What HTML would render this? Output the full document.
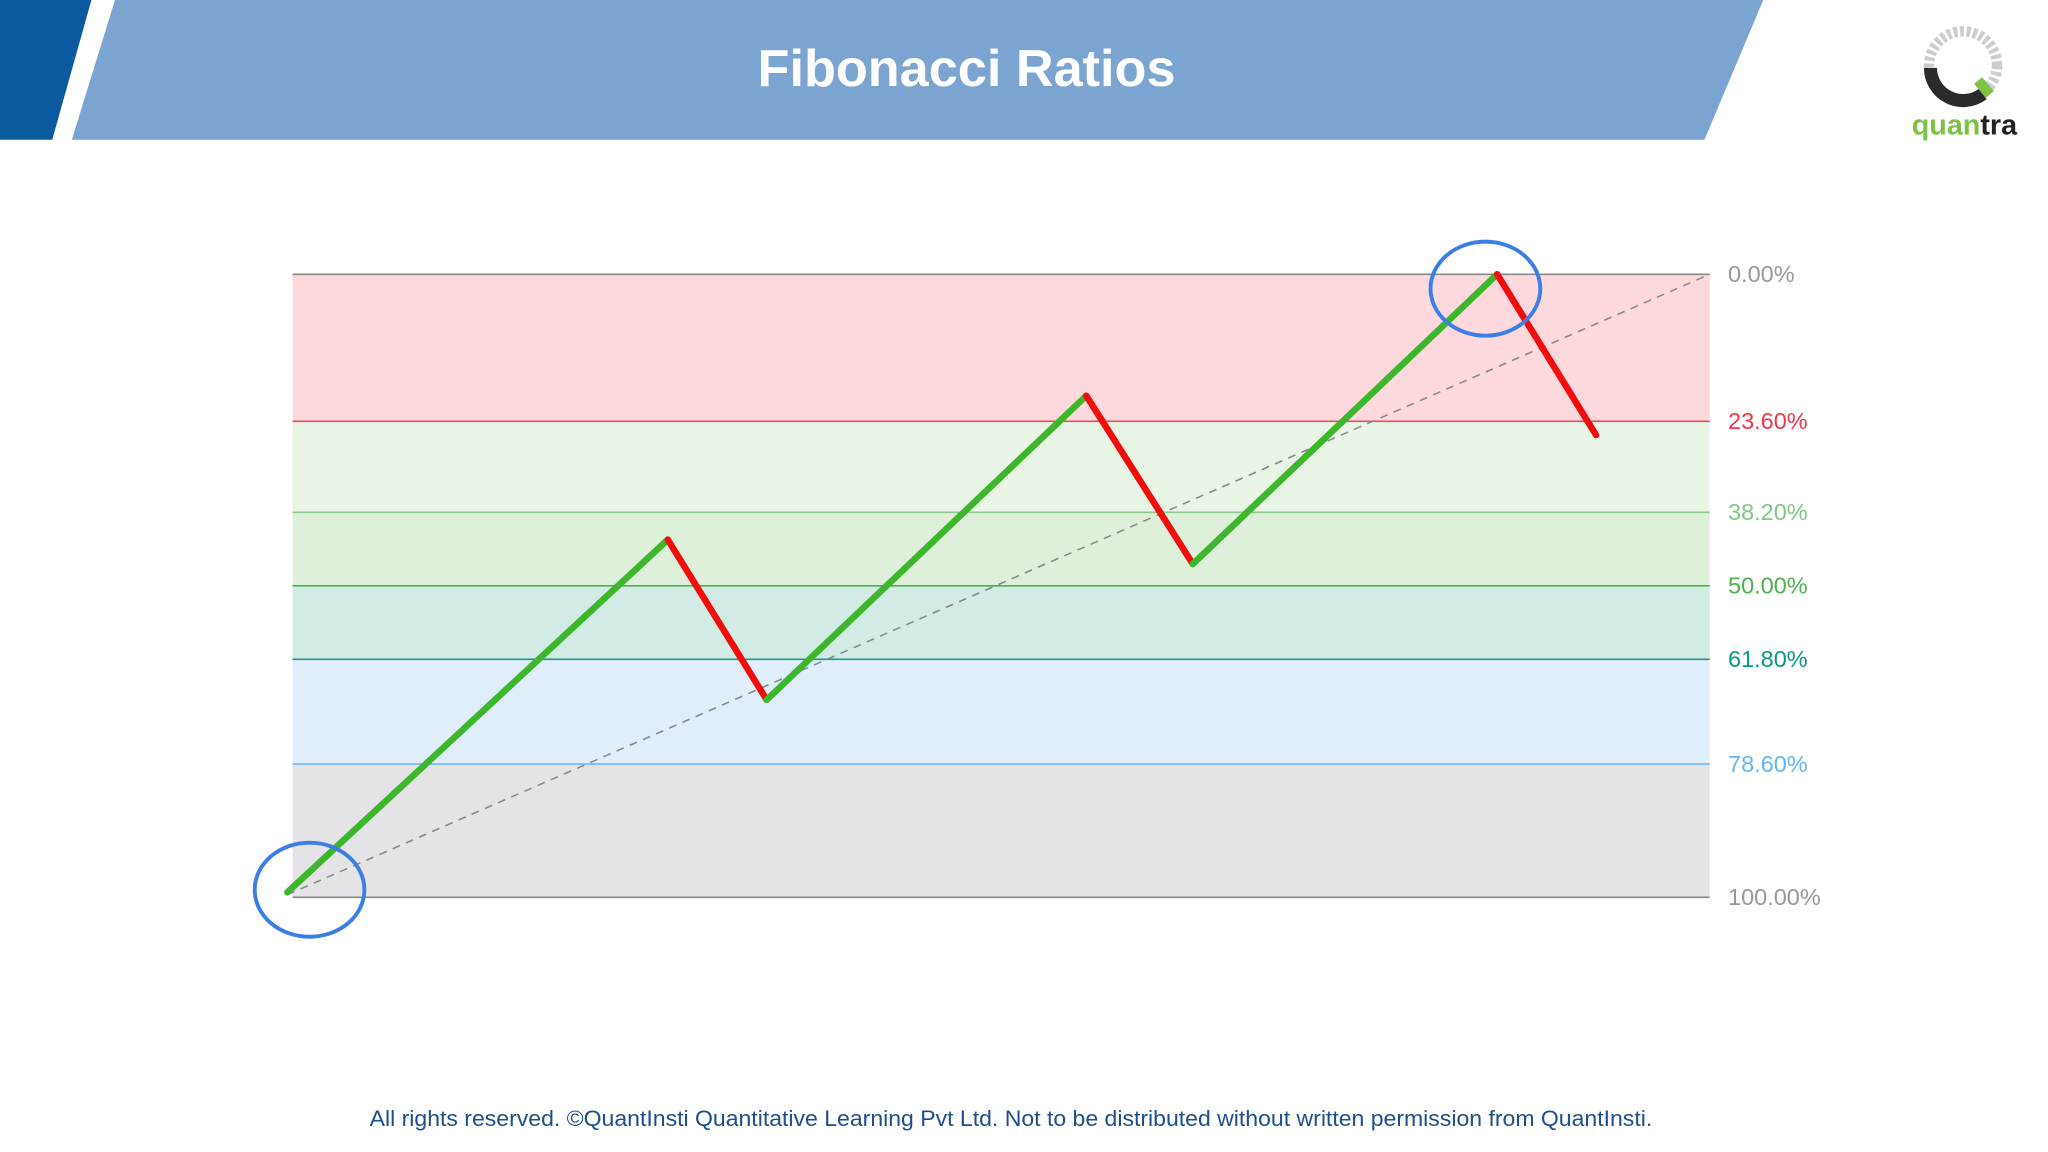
<!DOCTYPE html>
<html><head><meta charset="utf-8"><style>
html,body{margin:0;padding:0;background:#fff;}
svg{display:block;}
text{font-family:"Liberation Sans",sans-serif;}
</style></head><body>
<svg width="2048" height="1152" viewBox="0 0 1568 882" xmlns="http://www.w3.org/2000/svg">
<polygon points="0,0 70,0 40,107 0,107" fill="#0b5aa0"/>
<polygon points="88,0 1350,0 1305,107 55,107" fill="#7ba5d0"/>
<text x="740" y="66" text-anchor="middle" font-size="40" font-weight="bold" fill="#fff">Fibonacci Ratios</text>
<g>
<circle cx="1503" cy="50" r="26" fill="none" stroke="#ccc" stroke-width="8" stroke-dasharray="3 2"/>
<path d="M1478,52 A25,25 0 0 0 1518,72" fill="none" stroke="#2a2a2a" stroke-width="10"/>
<rect x="1515" y="60" width="8" height="14" fill="#7dc242" transform="rotate(-40 1519 67)"/>
<text x="1504" y="103" text-anchor="middle" font-size="22" font-weight="bold" fill="#7dc242">quan<tspan fill="#222">tra</tspan></text>
</g>
<g id="chart"></g>
<text x="283" y="862" textLength="982" lengthAdjust="spacingAndGlyphs" font-size="17" fill="#1f4e8c">All rights reserved. ©QuantInsti Quantitative Learning Pvt Ltd. Not to be distributed without written permission from QuantInsti.</text>
</svg>
<script>
const levels=[0,23.6,38.2,50,61.8,78.6,100];
const levelLabels=["0.00%","23.60%","38.20%","50.00%","61.80%","78.60%","100.00%"];
const times=[0,100,126,210,238,318,344];
const prices=[0.008,0.574,0.317,0.805,0.535,1.0,0.742];
const NS="http://www.w3.org/2000/svg";
const chartG=document.getElementById('chart');
const pLeft=224,pRight=1309,pTop=210,pBot=687;
const yLevel=p=>pTop+p/100*(pBot-pTop);
const yPrice=v=>pTop+(1-v)*(pBot-pTop);
const xT=t=>220+t*(1222-220)/344;
const bandFill=["#fdd8dc","#e8f5e4","#deefda","#d3ebe5","#e0eefc","#e4e4e7"];
const lineCol=["#888","#e05060","#8cc88c","#4caf50","#1a9a80","#64b5f6","#888"];
const labCol=["#999","#f23645","#81c784","#4caf50","#089981","#64b5f6","#999"];
function mk(tag,at){const e=document.createElementNS(NS,tag);for(const k in at)e.setAttribute(k,at[k]);chartG.appendChild(e);return e;}
for(let i=0;i<levels.length-1;i++){
 const r=mk('rect',{x:pLeft,y:yLevel(levels[i]),width:pRight-pLeft,height:yLevel(levels[i+1])-yLevel(levels[i]),fill:bandFill[i]});
 
 
}
levels.forEach((p,i)=>{
 const l=mk('line',{x1:pLeft,x2:pRight,y1:yLevel(p),y2:yLevel(p),stroke:lineCol[i],'stroke-width':1.2});
 
 
 const t=mk('text',{x:1323,y:yLevel(p)+6,'font-size':18,fill:labCol[i]});
 t.textContent=levelLabels[i];
 
 
});
const d=mk('line',{x1:xT(times[0]),y1:yLevel(100)-2,x2:pRight,y2:pTop,stroke:'#888','stroke-width':1.2,'stroke-dasharray':'6 5'});


for(let i=0;i<times.length-1;i++){
 const up=prices[i+1]>prices[i];
 const s=mk('line',{x1:xT(times[i]),y1:yPrice(prices[i]),x2:xT(times[i+1]),y2:yPrice(prices[i+1]),stroke:up?'#3cb62a':'#f20d0d','stroke-width':5,'stroke-linecap':'round'});
 
 
}
[0,5].forEach(i=>{
 const c=mk('ellipse',{cx:xT(times[i])+(i===0?17:-9),cy:yPrice(prices[i])+(i===0?-2:11),rx:42,ry:36,fill:'none',stroke:'#3d7ee6','stroke-width':3});
 
 
});
</script>
</body></html>
